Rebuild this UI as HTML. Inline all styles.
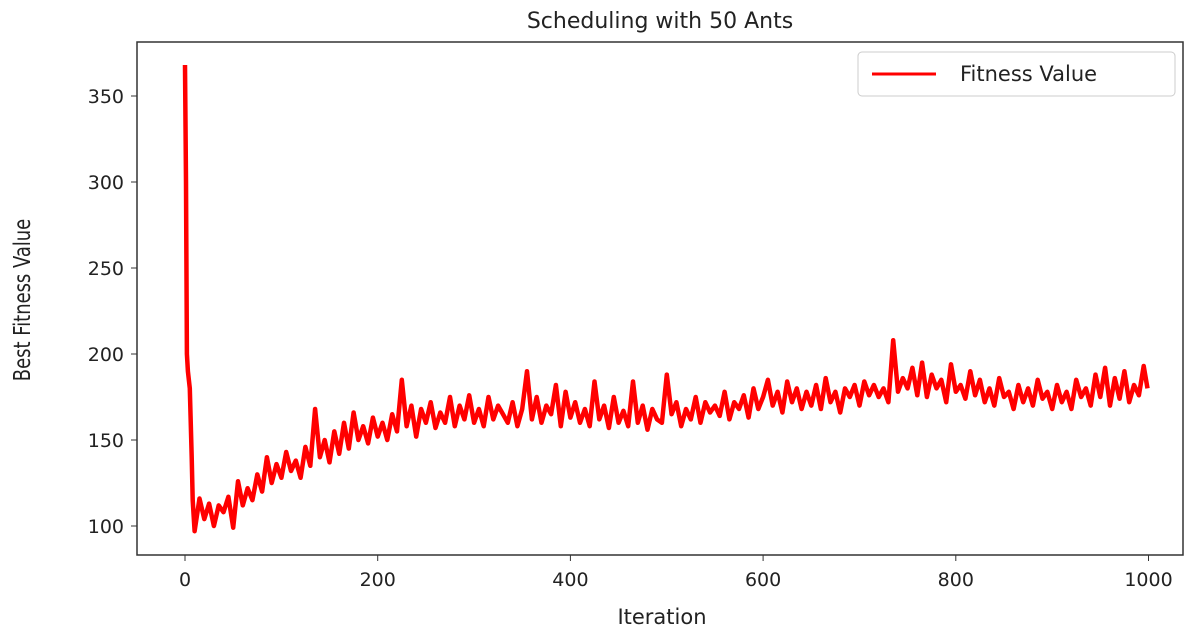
<!DOCTYPE html>
<html><head><meta charset="utf-8"><style>
html,body{margin:0;padding:0;background:#fff;width:1200px;height:631px;overflow:hidden}
svg text{font-family:"DejaVu Sans","Liberation Sans",sans-serif;fill:#222}
</style></head><body>
<svg id="chart" width="1200" height="631">
<text x="660" y="28" font-size="22" text-anchor="middle">Scheduling with 50 Ants</text>
<rect x="137" y="42" width="1046" height="513" fill="none" stroke="#333" stroke-width="1.5"/>
<g id="xticks"></g>
<g id="yticks"></g>
<text x="662" y="624" font-size="21" text-anchor="middle">Iteration</text>
<text transform="translate(30,300) rotate(-90) scale(0.78,1)" font-size="23" text-anchor="middle">Best Fitness Value</text>
<path id="series" fill="none" stroke="#ff0000" stroke-width="4.5" stroke-linejoin="round"/>
<g>
<rect x="858" y="52" width="317" height="44" rx="4" fill="#fff" stroke="#ccc"/>
<line x1="872" y1="74" x2="936" y2="74" stroke="#ff0000" stroke-width="3"/>
<text x="960" y="81" font-size="21">Fitness Value</text>
</g>
</svg>
<script>
const xTicks=[0,200,400,600,800,1000];
const yTicks=[100,150,200,250,300,350];
const earlyIter=[0,1,2,3,5,7,8];
const earlyFit=[368,300,200,190,180,140,115];
const fitness=[97,116,104,113,100,112,108,117,99,
126,112,122,115,130,120,140,125,136,128,
143,132,138,128,146,135,168,140,150,137,
155,142,160,145,166,150,158,148,163,152,
160,150,165,155,185,158,170,152,168,160,
172,157,166,160,175,158,170,162,176,160,
168,158,175,162,170,165,160,172,158,168,
190,162,175,160,170,165,182,158,178,163,
172,160,168,158,184,162,170,157,175,160,
167,158,184,160,170,156,168,162,160,188,
165,172,158,168,162,175,160,172,166,170,
164,178,162,172,168,176,163,180,168,175,
185,170,178,166,184,172,180,168,178,170,
182,168,186,172,178,166,180,175,182,170,
184,176,182,175,180,172,208,178,186,180,
192,176,195,175,188,180,185,172,194,178,
182,174,190,176,185,172,180,170,186,175,
178,168,182,172,180,170,185,174,178,168,
182,172,178,168,185,175,180,170,188,175,
192,170,186,174,190,172,182,176,193,180];
const iterations=earlyIter.slice();
for(let i=0;i<fitness.length;i++)iterations.push(Math.min(999,10+i*5));
const values=earlyFit.concat(fitness);
const X=v=>185+v*0.9635, Y=v=>526-(v-100)*1.72;
const ns="http://www.w3.org/2000/svg";
const xg=document.getElementById('xticks'), yg=document.getElementById('yticks');
xTicks.forEach(t=>{
 const l=document.createElementNS(ns,'line');
 
 
 l.setAttribute('x1',X(t));l.setAttribute('x2',X(t));l.setAttribute('y1',555);l.setAttribute('y2',561);l.setAttribute('stroke','#333');
 xg.appendChild(l);
 const tx=document.createElementNS(ns,'text');
 
 
 tx.setAttribute('x',X(t));tx.setAttribute('y',586);tx.setAttribute('font-size','19');tx.setAttribute('text-anchor','middle');
 tx.textContent=t;xg.appendChild(tx);
});
yTicks.forEach(t=>{
 const l=document.createElementNS(ns,'line');
 
 
 l.setAttribute('x1',131);l.setAttribute('x2',137);l.setAttribute('y1',Y(t));l.setAttribute('y2',Y(t));l.setAttribute('stroke','#333');
 yg.appendChild(l);
 const tx=document.createElementNS(ns,'text');
 
 
 tx.setAttribute('x',124);tx.setAttribute('y',Y(t)+7);tx.setAttribute('font-size','19');tx.setAttribute('text-anchor','end');
 tx.textContent=t;yg.appendChild(tx);
});
document.getElementById('series').setAttribute('d',values.map((v,i)=>(i?'L':'M')+X(iterations[i]).toFixed(1)+','+Y(v).toFixed(1)).join(''));
</script>
</body></html>
